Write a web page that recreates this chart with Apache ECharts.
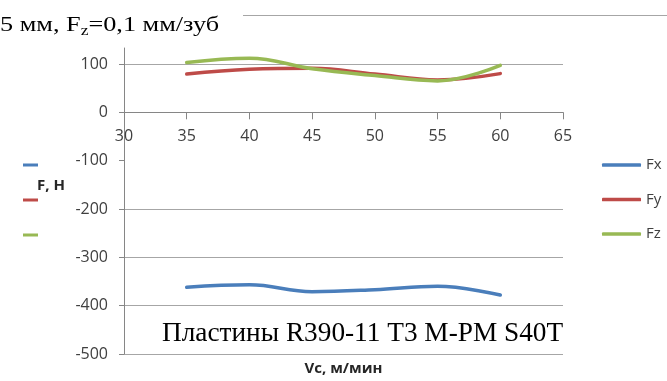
<!DOCTYPE html>
<html><head><meta charset="utf-8">
<script src="https://cdn.jsdelivr.net/npm/echarts@6/dist/echarts.min.js"></script>
<style>html,body{margin:0;padding:0;background:#fff}#c{width:667px;height:381px}</style>
</head><body><div id="c"></div>
<script>
const vc = [35, 40, 45, 50, 55, 60];
const fx = [-362, -357, -371, -367, -360, -378];
const fy = [79, 89, 91, 79, 67, 80];
const fz = [103, 112, 90, 76, 65, 97];
const seriesNames = ['Fx', 'Fy', 'Fz'];
const colors = ['#4a7ebb', '#be4b48', '#98b954'];
const yTicksPos = [0, 100];
const yTicksNeg = [-500, -400, -300, -200, -100];

const chart = echarts.init(document.getElementById('c'), null, {renderer: 'canvas'});
const lab = {fontFamily: 'Open Sans', fontSize: 16, color: '#404040'};
const axisGray = '#868686';
const mk = (name, vals, i, g) => ({
  name, type: 'line', data: vc.map((x, k) => [x, vals[k]]),
  xAxisIndex: g, yAxisIndex: g,
  smooth: 0.4, symbol: 'none', clip: false,
  lineStyle: {width: 3.5, color: colors[i], cap: 'round'}, itemStyle: {color: colors[i]}
});
chart.setOption({
  animation: false,
  color: colors,
  grid: [
    {left: 124, width: 439, top: 48, height: 64.3},
    {left: 124, width: 439, top: 112.3, height: 241.7}
  ],
  xAxis: [
    {gridIndex: 0, type: 'value', min: 30, max: 65, interval: 5, position: 'bottom',
     axisLine: {onZero: false, lineStyle: {color: axisGray, width: 1}},
     axisTick: {show: true, length: 7, lineStyle: {color: axisGray}},
     axisLabel: Object.assign({margin: 16}, lab),
     splitLine: {show: false}},
    {gridIndex: 1, type: 'value', min: 30, max: 65, interval: 5, show: false}
  ],
  yAxis: [
    {gridIndex: 0, type: 'value', min: 0, max: 133, interval: 100,
     axisLine: {show: true, onZero: false, lineStyle: {color: axisGray}},
     axisTick: {show: true, length: 5, customValues: yTicksPos, lineStyle: {color: axisGray}},
     axisLabel: Object.assign({margin: 16, customValues: yTicksPos}, lab),
     splitLine: {show: true, showMinLine: false, lineStyle: {color: '#a6a6a6', width: 1}}},
    {gridIndex: 1, type: 'value', min: -500, max: 0, interval: 100,
     axisLine: {show: true, onZero: false, lineStyle: {color: axisGray}},
     axisTick: {show: true, length: 5, customValues: yTicksNeg, lineStyle: {color: axisGray}},
     axisLabel: Object.assign({margin: 16, customValues: yTicksNeg}, lab),
     splitLine: {show: true, showMaxLine: false, lineStyle: {color: '#a6a6a6', width: 1}}}
  ],
  legend: [
    {data: seriesNames, orient: 'vertical', left: 597, top: 152.5, itemWidth: 39, itemHeight: 3.5,
     itemGap: 19.5, itemStyle: {}, icon: 'roundRect', textStyle: {fontFamily: 'Open Sans', fontSize: 15, color: '#404040'}},
    {data: seriesNames, orient: 'vertical', left: 18, top: 158.5, itemWidth: 15, itemHeight: 3,
     itemGap: 32, icon: 'rect', formatter: () => '', textStyle: {fontFamily: 'Open Sans', fontSize: 15}}
  ],
  title: [
    {text: 'Пластины R390-11 T3 M-PM S40T', left: 162, top: 320, padding: 0,
     textStyle: {fontFamily: 'Liberation Serif', fontSize: 27.3, fontWeight: 'normal', color: '#000'}},
    {text: 'F, H', left: 37, top: 178, padding: 0,
     textStyle: {fontFamily: 'Open Sans', fontSize: 15, fontWeight: 'bold', color: '#262626'}}
  ],
  graphic: [
    {type: 'line', shape: {x1: 243, y1: 15.5, x2: 667, y2: 15.5}, style: {stroke: '#a6a6a6', lineWidth: 1}},
    {type: 'text', x: 343.5, y: 368.5, style: {text: 'Vc, м/мин', align: 'center', verticalAlign: 'middle',
      font: 'bold 15px "Open Sans"', fill: '#262626'}},
    {type: 'text', x: 0, y: 12, scaleX: 1.25, style: {
      text: '{a|5 мм, F}{s|z}{a|=0,1 мм/зуб}', align: 'left', verticalAlign: 'top',
      rich: {
        a: {fontFamily: 'Liberation Serif', fontSize: 21, lineHeight: 26, verticalAlign: 'middle', fill: '#000'},
        s: {fontFamily: 'Liberation Serif', fontSize: 14, lineHeight: 14, verticalAlign: 'bottom', fill: '#000'}
      }
    }}
  ],
  series: [mk('Fx', fx, 0, 1), mk('Fy', fy, 1, 0), mk('Fz', fz, 2, 0)]
});
</script></body></html>
